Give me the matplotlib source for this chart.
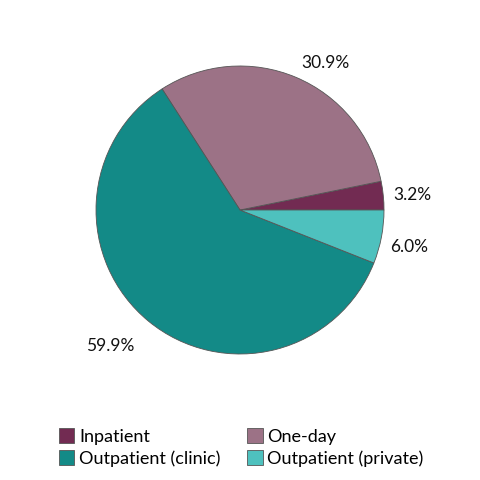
import numpy as np
import matplotlib.pyplot as plt

labels = ["Inpatient", "One-day", "Outpatient (clinic)", "Outpatient (private)"]
shares = [3.2, 30.9, 59.9, 6.0]
colors = ["#722B52", "#9C7286", "#138A87", "#4EC1BE"]

plt.rcParams['font.family'] = ['Lato', 'DejaVu Sans']

fig = plt.figure(figsize=(4.8, 4.8), dpi=100)
ax = fig.add_axes([0.2, 0.2625, 0.6, 0.6])

wedges, texts, pcts = ax.pie(shares, colors=colors, startangle=0, counterclock=True,
                             autopct="%.1f%%", pctdistance=1.2,
                             wedgeprops=dict(edgecolor="#555555", linewidth=0.6),
                             textprops=dict(fontsize=12.5, color="#111111"))

# nudge the outside labels (angle shift in degrees, distance from centre)
nudges = [(-0.8, 1.205), (-7.4, 1.183), (-4.3, 1.306), (-1.5, 1.2)]
for w, t, (dtheta, dist) in zip(wedges, pcts, nudges):
    theta = np.deg2rad((w.theta1 + w.theta2) / 2 + dtheta)
    t.set_position((dist * np.cos(theta), dist * np.sin(theta)))

ax.set_xlim(-1, 1)
ax.set_ylim(-1, 1)
ax.set_aspect("equal")

# row-major order: the legend fills columns first
order = [0, 2, 1, 3]
fig.legend([wedges[i] for i in order], [labels[i] for i in order], ncol=2,
           loc="upper left", bbox_to_anchor=(0.123, 0.108),
           frameon=False, fontsize=13, handlelength=0.85, handleheight=0.85,
           handletextpad=0.25, columnspacing=1.5, labelspacing=0.3,
           borderaxespad=0, borderpad=0)

fig.savefig("out.png", dpi=100)
